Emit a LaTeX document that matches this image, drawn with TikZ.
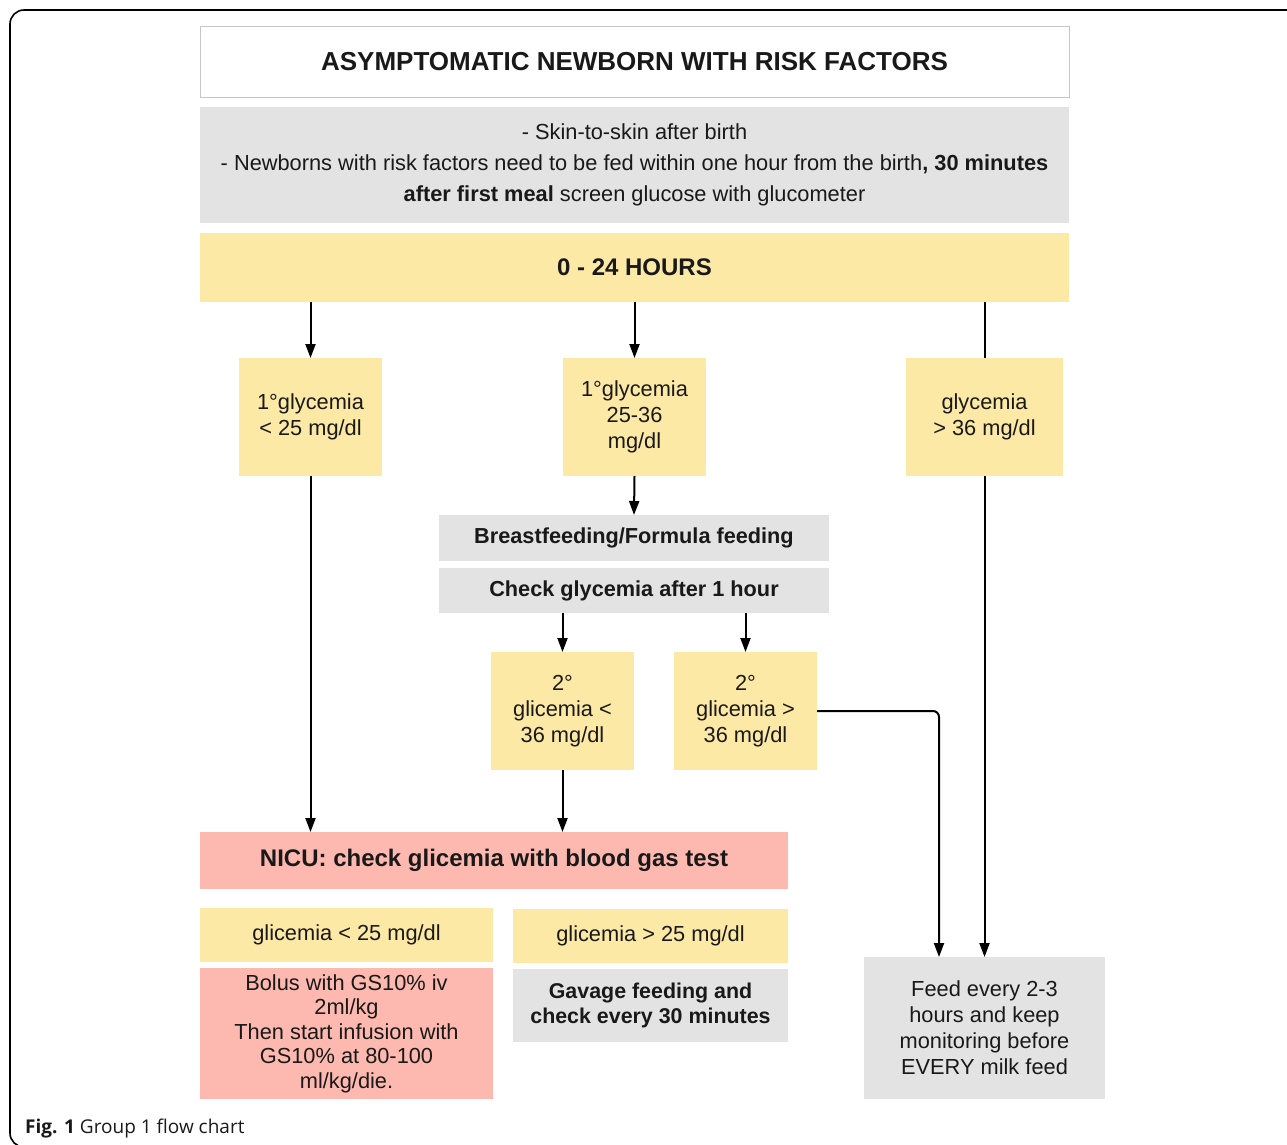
\documentclass[tikz,border=0pt]{standalone}
\usepackage{fontspec}
\setmainfont{Liberation Sans}
\newfontfamily\capfont{Open Sans}
\usetikzlibrary{arrows.meta}
\definecolor{ylw}{RGB}{253,233,166}
\definecolor{gry}{RGB}{227,227,227}
\definecolor{pnk}{RGB}{253,185,176}
\definecolor{txt}{RGB}{25,25,25}
\tikzset{
  box/.style={inner sep=0pt, outer sep=0pt, align=center, text=txt, font=\fontsize{21.8}{26}\selectfont},
  bx/.style={box, fill=ylw},
  bg/.style={box, fill=gry},
  bp/.style={box, fill=pnk},
  arr/.style={line width=2pt, -{Triangle[width=10pt,length=14pt]}},
  ln/.style={line width=2pt},
}
\begin{document}
\begin{tikzpicture}[x=1pt,y=-1pt]
\useasboundingbox (0,0) rectangle (1287,1144);
\begin{scope}
\clip (0,0) rectangle (1287,1144);
\draw[line width=1.6pt, rounded corners=14pt] (10,10) rectangle (1320,1147);
\end{scope}
\node[box, fill=white, draw=gray!45, line width=1pt, minimum width=869, minimum height=71, font=\fontsize{26}{30}\selectfont\bfseries] (title) at (634.5,62) {ASYMPTOMATIC NEWBORN WITH RISK FACTORS};
\node[bg, minimum width=869, minimum height=116, font=\fontsize{21.8}{31}\selectfont] (info) at (634.5,165) {- Skin-to-skin after birth\\- Newborns with risk factors need to be fed within one hour from the birth\textbf{, 30 minutes}\\\textbf{after first meal} screen glucose with glucometer};
\node[bx, minimum width=869, minimum height=69, font=\fontsize{24}{28}\selectfont\bfseries] (band) at (634.5,267.5) {0 - 24 HOURS};
\node[bx, minimum width=143, minimum height=118] (A) at (310.5,417) {1°glycemia\\< 25 mg/dl};
\node[bx, minimum width=143, minimum height=118] (B) at (634.5,417) {1°glycemia\\25-36\\mg/dl};
\node[bx, minimum width=157, minimum height=118] (C) at (984.5,417) {glycemia\\> 36 mg/dl};
\node[bg, minimum width=390, minimum height=46, font=\fontsize{21.7}{26}\selectfont\bfseries] (bf) at (634,538) {Breastfeeding/Formula feeding};
\node[bg, minimum width=390, minimum height=45, font=\fontsize{21.7}{26}\selectfont\bfseries] (chk) at (634,590.5) {Check glycemia after 1 hour};
\node[bx, minimum width=143, minimum height=118] (D) at (562.5,711) {2°\\glicemia <\\36 mg/dl};
\node[bx, minimum width=143, minimum height=118] (E) at (745.5,711) {2°\\glicemia >\\36 mg/dl};
\node[bp, minimum width=588, minimum height=57, font=\fontsize{24}{28}\selectfont\bfseries] (nicu) at (494,860.5) {NICU: check glicemia with blood gas test};
\node[bx, minimum width=293, minimum height=54] (gl) at (346.5,935) {glicemia < 25 mg/dl};
\node[bx, minimum width=275, minimum height=54] (gh) at (650.5,936) {glicemia > 25 mg/dl};
\node[bp, minimum width=293, minimum height=131, font=\fontsize{21.8}{24.5}\selectfont] (bolus) at (346.5,1033.5) {Bolus with GS10\% iv\\2ml/kg\\Then start infusion with\\GS10\% at 80-100\\ml/kg/die.};
\node[bg, minimum width=275, minimum height=73, font=\fontsize{21.4}{25}\selectfont\bfseries] (gav) at (650.5,1005.5) {Gavage feeding and\\check every 30 minutes};
\node[bg, minimum width=241, minimum height=142] (feed) at (984.5,1028) {Feed every 2-3\\hours and keep\\monitoring before\\EVERY milk feed};
\coordinate (elbow) at ([xshift=-45.5pt]feed.north);
\draw[arr] (A.north |- band.south) -- (A.north);
\draw[arr] (B.north |- band.south) -- (B.north);
\draw[ln] (C.north |- band.south) -- (C.north);
\draw[arr] (B.south) -- (bf.north);
\draw[arr] (D.north |- chk.south) -- (D.north);
\draw[arr] (E.north |- chk.south) -- (E.north);
\draw[arr] (A.south) -- (A.south |- nicu.north);
\draw[arr] (D.south) -- (D.south |- nicu.north);
\draw[arr, rounded corners=6pt] (E.east) -| (elbow);
\draw[arr] (C.south) -- (feed.north);
\node[anchor=base west, inner sep=0pt, font=\capfont\fontsize{19}{22}\selectfont, text=txt] (cap) at (25,1133) {\textbf{Fig. 1} Group 1 flow chart};
\end{tikzpicture}
\end{document}
